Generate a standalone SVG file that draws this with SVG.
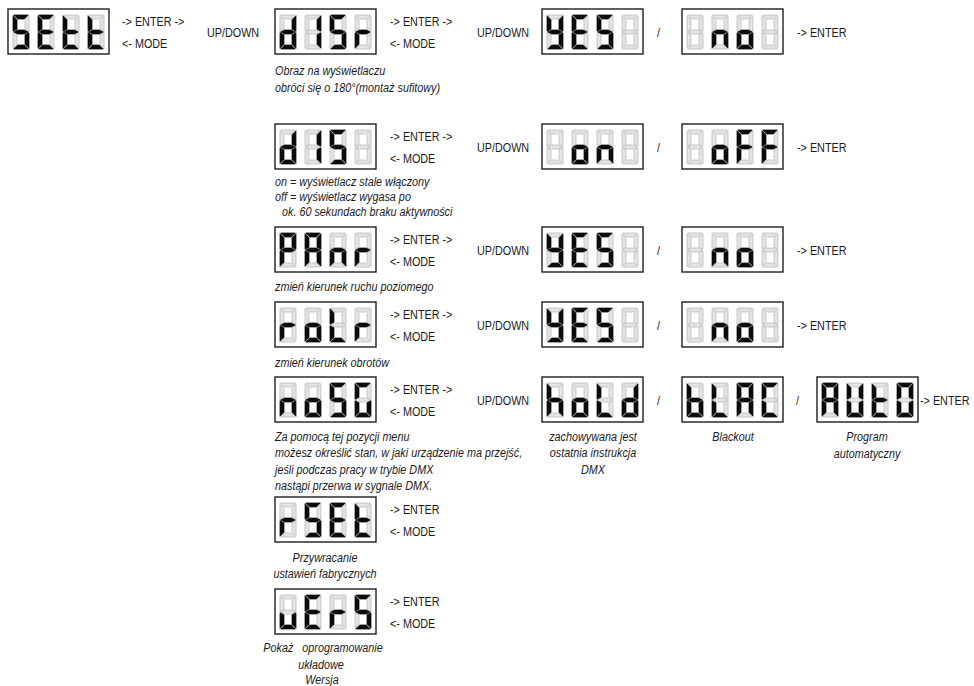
<svg xmlns="http://www.w3.org/2000/svg" xmlns:xlink="http://www.w3.org/1999/xlink" width="974" height="686" viewBox="0 0 974 686">
<style>
.off{fill:#e4e4e4;stroke:#bcbcbc;stroke-width:0.8}
.on{fill:#0b0b0b;stroke:#0b0b0b;stroke-width:0.6}
.box{fill:#fff;stroke:#1e1e1e;stroke-width:1.4}
text{font-family:"Liberation Sans","Arial",sans-serif;font-size:13.5px;fill:#1a1a1a}
.i{font-style:italic}
.m{text-anchor:middle}
.p{white-space:pre}
</style>
<defs>
<polygon id="sa" points="0.7,0 15.3,0 11.3,4 4.7,4"/>
<polygon id="sb" points="16,0.7 16,16.3 12,14.3 12,4.7"/>
<polygon id="sc" points="16,17.7 16,33.3 12,29.3 12,19.7"/>
<polygon id="sd" points="4.7,30 11.3,30 15.3,34 0.7,34"/>
<polygon id="se" points="0,17.7 4,19.7 4,29.3 0,33.3"/>
<polygon id="sf" points="0,0.7 4,4.7 4,14.3 0,16.3"/>
<polygon id="sg" points="0.7,17 4.7,15 11.3,15 15.3,17 11.3,19 4.7,19"/>
<g id="c_" class="off"><use href="#sa"/><use href="#sb"/><use href="#sc"/><use href="#sd"/><use href="#se"/><use href="#sf"/><use href="#sg"/></g>
<g id="cS"><use href="#c_"/><g class="on"><use href="#sa"/><use href="#sf"/><use href="#sg"/><use href="#sc"/><use href="#sd"/></g></g>
<g id="cE"><use href="#c_"/><g class="on"><use href="#sa"/><use href="#sf"/><use href="#sg"/><use href="#se"/><use href="#sd"/></g></g>
<g id="ct"><use href="#c_"/><g class="on"><use href="#sf"/><use href="#sg"/><use href="#se"/><use href="#sd"/></g></g>
<g id="cd"><use href="#c_"/><g class="on"><use href="#sb"/><use href="#sc"/><use href="#sg"/><use href="#se"/><use href="#sd"/></g></g>
<g id="cI"><use href="#c_"/><g class="on"><use href="#sb"/><use href="#sc"/></g></g>
<g id="cr"><use href="#c_"/><g class="on"><use href="#se"/><use href="#sg"/></g></g>
<g id="cY"><use href="#c_"/><g class="on"><use href="#sf"/><use href="#sg"/><use href="#sb"/><use href="#sc"/><use href="#sd"/></g></g>
<g id="cn"><use href="#c_"/><g class="on"><use href="#se"/><use href="#sg"/><use href="#sc"/></g></g>
<g id="co"><use href="#c_"/><g class="on"><use href="#sg"/><use href="#se"/><use href="#sd"/><use href="#sc"/></g></g>
<g id="cF"><use href="#c_"/><g class="on"><use href="#sa"/><use href="#sf"/><use href="#sg"/><use href="#se"/></g></g>
<g id="cP"><use href="#c_"/><g class="on"><use href="#sa"/><use href="#sb"/><use href="#sf"/><use href="#sg"/><use href="#se"/></g></g>
<g id="cA"><use href="#c_"/><g class="on"><use href="#sa"/><use href="#sb"/><use href="#sc"/><use href="#se"/><use href="#sf"/><use href="#sg"/></g></g>
<g id="cL"><use href="#c_"/><g class="on"><use href="#sf"/><use href="#se"/><use href="#sd"/></g></g>
<g id="cG"><use href="#c_"/><g class="on"><use href="#sa"/><use href="#sf"/><use href="#se"/><use href="#sd"/><use href="#sc"/></g></g>
<g id="ch"><use href="#c_"/><g class="on"><use href="#sf"/><use href="#se"/><use href="#sg"/><use href="#sc"/></g></g>
<g id="cb"><use href="#c_"/><g class="on"><use href="#sf"/><use href="#se"/><use href="#sg"/><use href="#sc"/><use href="#sd"/></g></g>
<g id="cC"><use href="#c_"/><g class="on"><use href="#sa"/><use href="#sf"/><use href="#se"/><use href="#sd"/></g></g>
<g id="cU"><use href="#c_"/><g class="on"><use href="#sf"/><use href="#se"/><use href="#sd"/><use href="#sc"/><use href="#sb"/></g></g>
<g id="cO"><use href="#c_"/><g class="on"><use href="#sa"/><use href="#sb"/><use href="#sc"/><use href="#sd"/><use href="#se"/><use href="#sf"/></g></g>
<g id="cu"><use href="#c_"/><g class="on"><use href="#se"/><use href="#sd"/><use href="#sc"/></g></g>
</defs>

<g id="connectors"/>

<!-- Row 1 -->
<g id="n-sett" transform="translate(8,9)"><rect class="box" width="101" height="45"/><use href="#cS" x="5" y="6"/><use href="#cE" x="30" y="6"/><use href="#ct" x="55" y="6"/><use href="#ct" x="80" y="6"/></g>
<g id="n-disr" transform="translate(275,9)"><rect class="box" width="101" height="45"/><use href="#cd" x="5" y="6"/><use href="#cI" x="30" y="6"/><use href="#cS" x="55" y="6"/><use href="#cr" x="80" y="6"/></g>
<g id="n-yes1" transform="translate(542,9)"><rect class="box" width="101" height="45"/><use href="#cY" x="5" y="6"/><use href="#cE" x="30" y="6"/><use href="#cS" x="55" y="6"/><use href="#c_" x="80" y="6"/></g>
<g id="n-no1" transform="translate(682,9)"><rect class="box" width="101" height="45"/><use href="#c_" x="5" y="6"/><use href="#cn" x="30" y="6"/><use href="#co" x="55" y="6"/><use href="#c_" x="80" y="6"/></g>
<g id="labels-r1" transform="scale(0.8,1)">
<text x="152.5" y="26.5">-&gt; ENTER -&gt;</text>
<text x="152.5" y="48.5">&lt;- MODE</text>
<text x="258.75" y="37.5">UP/DOWN</text>
<text x="487.5" y="26.5">-&gt; ENTER -&gt;</text>
<text x="487.5" y="48.5">&lt;- MODE</text>
<text x="596.25" y="37.5">UP/DOWN</text>
<text x="821.25" y="37.5">/</text>
<text x="996.25" y="37.5">-&gt; ENTER</text>
<text class="i" x="343.75" y="75">Obraz na wyświetlaczu</text>
<text class="i" x="343.75" y="92">obróci się o 180°(montaż sufitowy)</text>
</g>

<!-- Row 2 -->
<g id="n-dis" transform="translate(275,124)"><rect class="box" width="101" height="45"/><use href="#cd" x="5" y="6"/><use href="#cI" x="30" y="6"/><use href="#cS" x="55" y="6"/><use href="#c_" x="80" y="6"/></g>
<g id="n-on" transform="translate(542,124)"><rect class="box" width="101" height="45"/><use href="#c_" x="5" y="6"/><use href="#co" x="30" y="6"/><use href="#cn" x="55" y="6"/><use href="#c_" x="80" y="6"/></g>
<g id="n-off" transform="translate(682,124)"><rect class="box" width="101" height="45"/><use href="#c_" x="5" y="6"/><use href="#co" x="30" y="6"/><use href="#cF" x="55" y="6"/><use href="#cF" x="80" y="6"/></g>
<g id="labels-r2" transform="scale(0.8,1)">
<text x="487.5" y="141.5">-&gt; ENTER -&gt;</text>
<text x="487.5" y="163.5">&lt;- MODE</text>
<text x="596.25" y="152.5">UP/DOWN</text>
<text x="821.25" y="152.5">/</text>
<text x="996.25" y="152.5">-&gt; ENTER</text>
<text class="i" x="343.75" y="186">on = wyświetlacz stale włączony</text>
<text class="i" x="343.75" y="201">off = wyświetlacz wygasa po</text>
<text class="i" x="352.5" y="216">ok. 60 sekundach braku aktywności</text>
</g>

<!-- Row 3 -->
<g id="n-panr" transform="translate(275,227)"><rect class="box" width="101" height="45"/><use href="#cP" x="5" y="6"/><use href="#cA" x="30" y="6"/><use href="#cn" x="55" y="6"/><use href="#cr" x="80" y="6"/></g>
<g id="n-yes3" transform="translate(542,227)"><rect class="box" width="101" height="45"/><use href="#cY" x="5" y="6"/><use href="#cE" x="30" y="6"/><use href="#cS" x="55" y="6"/><use href="#c_" x="80" y="6"/></g>
<g id="n-no3" transform="translate(682,227)"><rect class="box" width="101" height="45"/><use href="#c_" x="5" y="6"/><use href="#cn" x="30" y="6"/><use href="#co" x="55" y="6"/><use href="#c_" x="80" y="6"/></g>
<g id="labels-r3" transform="scale(0.8,1)">
<text x="487.5" y="244.5">-&gt; ENTER -&gt;</text>
<text x="487.5" y="266.5">&lt;- MODE</text>
<text x="596.25" y="255.5">UP/DOWN</text>
<text x="821.25" y="255.5">/</text>
<text x="996.25" y="255.5">-&gt; ENTER</text>
<text class="i" x="343.75" y="291">zmień kierunek ruchu poziomego</text>
</g>

<!-- Row 4 -->
<g id="n-rotr" transform="translate(275,302)"><rect class="box" width="101" height="45"/><use href="#cr" x="5" y="6"/><use href="#co" x="30" y="6"/><use href="#cL" x="55" y="6"/><use href="#cr" x="80" y="6"/></g>
<g id="n-yes4" transform="translate(542,302)"><rect class="box" width="101" height="45"/><use href="#cY" x="5" y="6"/><use href="#cE" x="30" y="6"/><use href="#cS" x="55" y="6"/><use href="#c_" x="80" y="6"/></g>
<g id="n-no4" transform="translate(682,302)"><rect class="box" width="101" height="45"/><use href="#c_" x="5" y="6"/><use href="#cn" x="30" y="6"/><use href="#co" x="55" y="6"/><use href="#c_" x="80" y="6"/></g>
<g id="labels-r4" transform="scale(0.8,1)">
<text x="487.5" y="319.5">-&gt; ENTER -&gt;</text>
<text x="487.5" y="341.5">&lt;- MODE</text>
<text x="596.25" y="330.5">UP/DOWN</text>
<text x="821.25" y="330.5">/</text>
<text x="996.25" y="330.5">-&gt; ENTER</text>
<text class="i" x="343.75" y="367">zmień kierunek obrotów</text>
</g>

<!-- Row 5 -->
<g id="n-nosg" transform="translate(275,377)"><rect class="box" width="101" height="45"/><use href="#cn" x="5" y="6"/><use href="#co" x="30" y="6"/><use href="#cS" x="55" y="6"/><use href="#cG" x="80" y="6"/></g>
<g id="n-hold" transform="translate(542,377)"><rect class="box" width="101" height="45"/><use href="#ch" x="5" y="6"/><use href="#co" x="30" y="6"/><use href="#cL" x="55" y="6"/><use href="#cd" x="80" y="6"/></g>
<g id="n-blac" transform="translate(682,377)"><rect class="box" width="101" height="45"/><use href="#cb" x="5" y="6"/><use href="#cL" x="30" y="6"/><use href="#cA" x="55" y="6"/><use href="#cC" x="80" y="6"/></g>
<g id="n-auto" transform="translate(817,377)"><rect class="box" width="101" height="45"/><use href="#cA" x="5" y="6"/><use href="#cU" x="30" y="6"/><use href="#ct" x="55" y="6"/><use href="#cO" x="80" y="6"/></g>
<g id="labels-r5" transform="scale(0.8,1)">
<text x="487.5" y="394.5">-&gt; ENTER -&gt;</text>
<text x="487.5" y="416.5">&lt;- MODE</text>
<text x="596.25" y="405.5">UP/DOWN</text>
<text x="821.25" y="405.5">/</text>
<text x="995" y="405.5">/</text>
<text x="1150" y="405.5">-&gt; ENTER</text>
<text class="i" x="343.75" y="441">Za pomocą tej pozycji menu</text>
<text class="i" x="343.75" y="457">możesz określić stan, w jaki urządzenie ma przejść,</text>
<text class="i" x="343.75" y="474">jeśli podczas pracy w trybie DMX</text>
<text class="i" x="343.75" y="490">nastąpi przerwa w sygnale DMX.</text>
<text class="i m" x="741.25" y="441">zachowywana jest</text>
<text class="i m" x="741.25" y="457">ostatnia instrukcja</text>
<text class="i m" x="741.25" y="474">DMX</text>
<text class="i m" x="916.25" y="441">Blackout</text>
<text class="i m" x="1083.75" y="441">Program</text>
<text class="i m" x="1083.75" y="458">automatyczny</text>
</g>

<!-- Row 6 -->
<g id="n-rset" transform="translate(275,497)"><rect class="box" width="101" height="45"/><use href="#cr" x="5" y="6"/><use href="#cS" x="30" y="6"/><use href="#cE" x="55" y="6"/><use href="#ct" x="80" y="6"/></g>
<g id="labels-r6" transform="scale(0.8,1)">
<text x="487.5" y="514.5">-&gt; ENTER</text>
<text x="487.5" y="536.5">&lt;- MODE</text>
<text class="i m" x="406.25" y="562">Przywracanie</text>
<text class="i m" x="406.25" y="578">ustawień fabrycznych</text>
</g>

<!-- Row 7 -->
<g id="n-vers" transform="translate(275,589)"><rect class="box" width="101" height="45"/><use href="#cu" x="5" y="6"/><use href="#cE" x="30" y="6"/><use href="#cr" x="55" y="6"/><use href="#cS" x="80" y="6"/></g>
<g id="labels-r7" transform="scale(0.8,1)">
<text x="487.5" y="606.5">-&gt; ENTER</text>
<text x="487.5" y="628.5">&lt;- MODE</text>
<text class="i m p" x="403.75" y="652">Pokaż   oprogramowanie</text>
<text class="i m" x="401.25" y="669">układowe</text>
<text class="i m" x="402.5" y="684">Wersja</text>
</g>
</svg>
